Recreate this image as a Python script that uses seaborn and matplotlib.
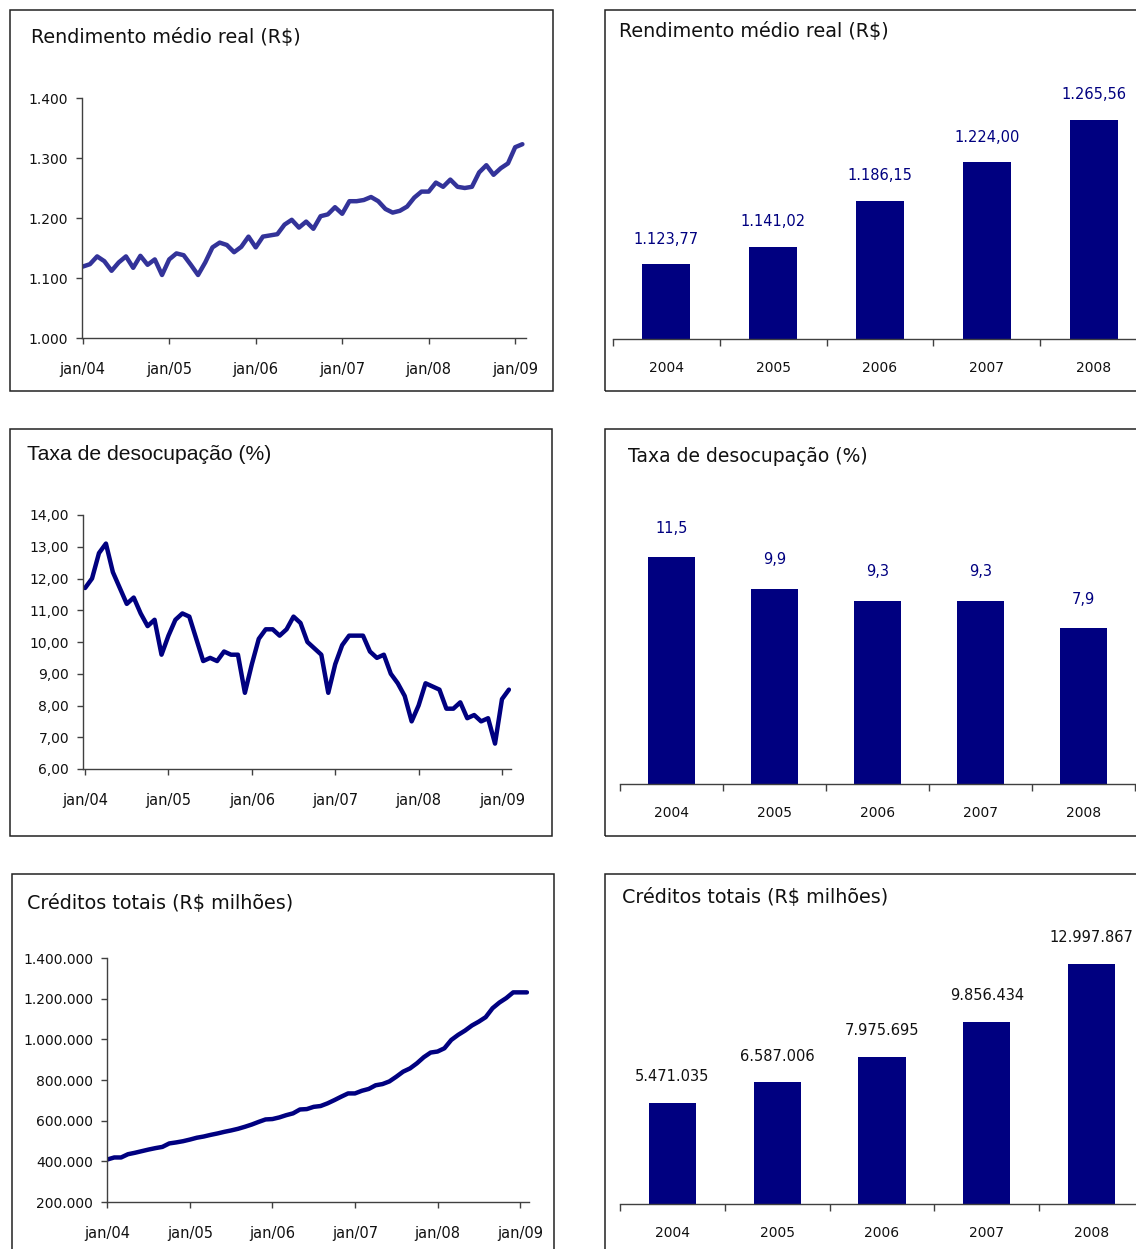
import matplotlib
matplotlib.use("Agg")
import matplotlib.pyplot as plt
from matplotlib.patches import Rectangle
import numpy as np
import pandas as pd
import seaborn as sns

# monthly series, jan/04 .. feb/09
rendimento = [1119, 1123, 1136, 1128, 1112, 1126, 1136, 1117, 1137, 1122, 1131, 1105,
              1131, 1141, 1138, 1122, 1105, 1126, 1151, 1159, 1155, 1143, 1152, 1169,
              1151, 1169, 1171, 1173, 1189, 1197, 1184, 1194, 1182, 1203, 1206, 1218,
              1207, 1228, 1228, 1230, 1235, 1228, 1215, 1209, 1212, 1219, 1234, 1244,
              1244, 1259, 1252, 1264, 1252, 1250, 1252, 1276, 1288, 1272, 1283, 1291,
              1318, 1323]
desocupacao = [11.7, 12.0, 12.8, 13.1, 12.2, 11.7, 11.2, 11.4, 10.9, 10.5, 10.7, 9.6,
               10.2, 10.7, 10.9, 10.8, 10.1, 9.4, 9.5, 9.4, 9.7, 9.6, 9.6, 8.4,
               9.3, 10.1, 10.4, 10.4, 10.2, 10.4, 10.8, 10.6, 10.0, 9.8, 9.6, 8.4,
               9.3, 9.9, 10.2, 10.2, 10.2, 9.7, 9.5, 9.6, 9.0, 8.7, 8.3, 7.5,
               8.0, 8.7, 8.6, 8.5, 7.9, 7.9, 8.1, 7.6, 7.7, 7.5, 7.6, 6.8,
               8.2, 8.5]
creditos = [409, 419, 419, 435, 442, 450, 458, 465, 471, 488, 493, 499,
            507, 516, 522, 530, 537, 545, 552, 560, 570, 581, 594, 606,
            608, 616, 627, 636, 655, 657, 668, 672, 685, 701, 718, 734,
            734, 747, 756, 774, 780, 793, 816, 841, 857, 882, 912, 935,
            940, 956, 997, 1022, 1043, 1068, 1087, 1109, 1153, 1181, 1203, 1231,
            1231, 1231]
creditos = [v * 1000 for v in creditos]
month_labels = ["jan/04", "jan/05", "jan/06", "jan/07", "jan/08", "jan/09"]

# yearly values
anos = ["2004", "2005", "2006", "2007", "2008"]
rend_ano = [1123.77, 1141.02, 1186.15, 1224.00, 1265.56]
deso_ano = [11.5, 9.9, 9.3, 9.3, 7.9]
cred_ano = [5471035, 6587006, 7975695, 9856434, 12997867]


def br(v, dec=0):
    s = f"{v:,.{dec}f}"
    return s.replace(",", "X").replace(".", ",").replace("X", ".")


sns.set_theme(style="white")
plt.rcParams["font.family"] = ["DejaVu Sans"]

W, H = 1136, 1249
fig = plt.figure(figsize=(W / 100, H / 100), dpi=100)


def ax_at(left, top, right, bottom):
    return fig.add_axes([left / W, 1 - bottom / H, (right - left) / W, (bottom - top) / H])


def box(x0, y0, x1, y1):
    fig.add_artist(Rectangle((x0 / W, 1 - y1 / H), (x1 - x0) / W, (y1 - y0) / H,
                             transform=fig.transFigure, fill=False,
                             ec="#222222", lw=1.1))


def title(x, y, txt, family="DejaVu Sans", size=13.8):
    fig.text(x / W, 1 - y / H, txt, ha="left", va="center",
             fontsize=size, family=family, color="#111111")


def line_panel(pos, values, color, ylim, yticks, ylabels, xlim):
    ax = ax_at(*pos)
    df = pd.DataFrame({"mes": np.arange(len(values)), "valor": values})
    sns.lineplot(data=df, x="mes", y="valor", ax=ax, color=color, lw=3.2)
    ax.set_xlim(*xlim)
    ax.set_ylim(*ylim)
    ax.set_yticks(yticks)
    ax.set_yticklabels(ylabels)
    ax.set_xticks([0, 12, 24, 36, 48, 60])
    ax.set_xticklabels(month_labels)
    ax.set_xlabel("")
    ax.set_ylabel("")
    for s in ["top", "right"]:
        ax.spines[s].set_visible(False)
    for s in ["left", "bottom"]:
        ax.spines[s].set_color("#404040")
        ax.spines[s].set_linewidth(1)
    ax.tick_params(axis="y", direction="out", length=4, width=1, color="#404040",
                   pad=6, labelsize=10, labelcolor="#111111", left=True)
    ax.tick_params(axis="x", direction="out", length=4, width=1, color="#404040",
                   pad=13, labelsize=10.5, labelcolor="#111111", bottom=True)
    return ax


def bar_panel(pos, values, ylim, labels, lab_color, off):
    ax = ax_at(*pos)
    sns.barplot(x=anos, y=values, ax=ax, color="#000080", saturation=1,
                width=0.45, linewidth=0)
    ax.set_xlim(-0.5, 4.5)
    ax.set_ylim(*ylim)
    for i, (v, t) in enumerate(zip(values, labels)):
        ax.annotate(t, (i, v), xytext=(0, off), textcoords="offset points",
                    ha="center", va="center", fontsize=10.5, color=lab_color)
    ax.set_yticks([])
    ax.set_xlabel("")
    ax.set_ylabel("")
    for s in ["top", "right", "left"]:
        ax.spines[s].set_visible(False)
    ax.spines["bottom"].set_color("#404040")
    ax.spines["bottom"].set_linewidth(1)
    ax.set_xticks(np.arange(-0.5, 5, 1), minor=True)
    ax.tick_params(axis="x", which="major", length=0, pad=16, labelsize=10,
                   labelcolor="#111111")
    ax.tick_params(axis="x", which="minor", direction="out", length=5, width=1,
                   color="#404040", bottom=True)
    return ax


# panel boxes
box(10, 10, 553, 391)
box(605, 10, 1160, 391)
box(10, 429, 552, 836)
box(605, 429, 1160, 836)
box(12, 874, 554, 1270)
box(605, 874, 1160, 1270)

# Rendimento
title(31, 38, "Rendimento médio real (R$)")
line_panel((82, 98, 526, 338), rendimento, "#333399", (1000, 1400),
           [1000, 1100, 1200, 1300, 1400],
           [br(v) for v in [1000, 1100, 1200, 1300, 1400]], (-0.1, 61.5))

title(619, 32, "Rendimento médio real (R$)")
bar_panel((613, 60, 1147, 339), rend_ano, (1050, 1050 + 279 / 1.016),
          [br(v, 2) for v in rend_ano], "#000080", 18)

# Desocupacao
title(27, 455, "Taxa de desocupação (%)", family="Liberation Sans", size=15.2)
yt = [6, 7, 8, 9, 10, 11, 12, 13, 14]
line_panel((83, 515, 511, 769), desocupacao, "#000080", (6, 14), yt,
           [br(v, 2) for v in yt], (-0.3, 61.3))

title(628, 457, "Taxa de desocupação (%)", size=13.5)
bar_panel((620, 480, 1135, 784), deso_ano, (0, 304 / 19.7),
          [br(v, 1) for v in deso_ano], "#000080", 21)

# Creditos
title(27, 903, "Créditos totais (R$ milhões)")
yt = [200000, 400000, 600000, 800000, 1000000, 1200000, 1400000]
line_panel((107, 958, 529, 1202), creditos, "#000080", (200000, 1400000), yt,
           [br(v) for v in yt], (-0.05, 61.3))

title(622, 897, "Créditos totais (R$ milhões)")
bar_panel((620, 920, 1144, 1204), cred_ano, (0, 284 / 18.46 * 1e6),
          [br(v) for v in cred_ano], "#111111", 19)

fig.savefig("out.png", dpi=100)
